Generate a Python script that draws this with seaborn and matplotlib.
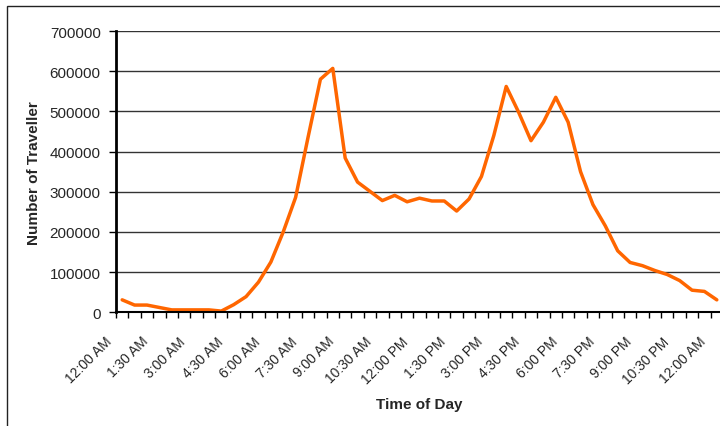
import matplotlib

matplotlib.use("Agg")
import matplotlib.pyplot as plt
import matplotlib.transforms as mtransforms
import numpy as np
import pandas as pd
import seaborn as sns
from matplotlib.patches import Rectangle
from matplotlib.ticker import FixedLocator, StrMethodFormatter


OUT_FILE = "out.png"

# travellers per half-hour slot, 12:00 AM through the following 12:00 AM
travellers = [
    31000, 18000, 18000, 12000, 6000, 6000, 6000, 6000, 3000, 19000,
    39000, 75000, 125000, 200000, 286000, 435000, 580000, 607000, 384000, 324000,
    301000, 278000, 291000, 275000, 284000, 277000, 277000, 252000, 282000, 338000,
    440000, 562000, 498000, 427000, 473000, 535000, 473000, 350000, 268000, 215000,
    153000, 124000, 116000, 104000, 94000, 79000, 55000, 52000, 31000,
]
tick_labels = [
    "12:00 AM", "1:30 AM", "3:00 AM", "4:30 AM", "6:00 AM", "7:30 AM",
    "9:00 AM", "10:30 AM", "12:00 PM", "1:30 PM", "3:00 PM", "4:30 PM",
    "6:00 PM", "7:30 PM", "9:00 PM", "10:30 PM", "12:00 AM",
]
y_ticks = [0, 100000, 200000, 300000, 400000, 500000, 600000, 700000]

sns.set_theme(style="white")
plt.rcParams["font.family"] = ["Liberation Sans", "DejaVu Sans"]


def main() -> None:
    df = pd.DataFrame({"slot": np.arange(len(travellers)), "travellers": travellers})

    fig = plt.figure(figsize=(7.2, 4.27), dpi=100)
    fig.patch.set_facecolor("white")
    W, H = 720, 427
    ax = fig.add_axes([116 / W, (H - 313.3) / H, 607 / W, 281.3 / H])

    # outer chart frame (right/bottom edges fall outside the image)
    fig.patches.append(
        Rectangle((7 / W, -0.1), 1.2, (H - 7) / H + 0.1, transform=fig.transFigure,
                  fill=False, edgecolor="#222222", linewidth=1.0)
    )

    sns.lineplot(data=df, x="slot", y="travellers", ax=ax, color="#FF6600",
                 linewidth=2.5, legend=False)

    ax.set_xlim(-0.5, len(travellers) - 0.5)
    ax.set_ylim(0, 700000)

    # tick marks between categories; labels every third slot
    ax.xaxis.set_major_locator(FixedLocator(np.arange(len(travellers) + 1) - 0.5))
    ax.xaxis.set_minor_locator(FixedLocator(np.arange(0, len(travellers), 3)))
    ax.set_xticklabels([], minor=False)
    ax.set_xticklabels(tick_labels, minor=True, rotation=45, ha="right", va="top",
                       rotation_mode="default", fontsize=10)
    ax.tick_params(axis="x", which="major", length=4, width=1, color="black",
                   direction="out", bottom=True)
    ax.tick_params(axis="x", which="minor", length=0, pad=15.5)

    ax.set_yticks(y_ticks)
    ax.yaxis.set_major_formatter(StrMethodFormatter("{x:.0f}"))
    ax.tick_params(axis="y", length=5, width=1, color="black", direction="out",
                   left=True, labelsize=11, pad=6)

    # nudge the rotated labels a little to the left (after tick_params, which resets transforms)
    shift = mtransforms.ScaledTranslation(-0.08, 0, fig.dpi_scale_trans)
    for tick in ax.xaxis.get_minor_ticks():
        tick.label1.set_transform(tick.label1.get_transform() + shift)

    ax.grid(axis="y", color="#333333", linewidth=1)
    ax.grid(axis="x", visible=False)
    for side in ["top", "right"]:
        ax.spines[side].set_visible(False)
    ax.spines["left"].set_color("black")
    ax.spines["left"].set_linewidth(2)
    ax.spines["bottom"].set_color("black")
    ax.spines["bottom"].set_linewidth(1.5)

    ax.set_xlabel("Time of Day", fontsize=11, fontweight="bold")
    ax.set_ylabel("Number of Traveller", fontsize=11, fontweight="bold")
    ax.xaxis.set_label_coords(0.5, -0.30)
    ax.yaxis.set_label_coords(-0.123, 0.5)

    fig.savefig(OUT_FILE, dpi=100)
    plt.close(fig)


if __name__ == "__main__":
    main()
